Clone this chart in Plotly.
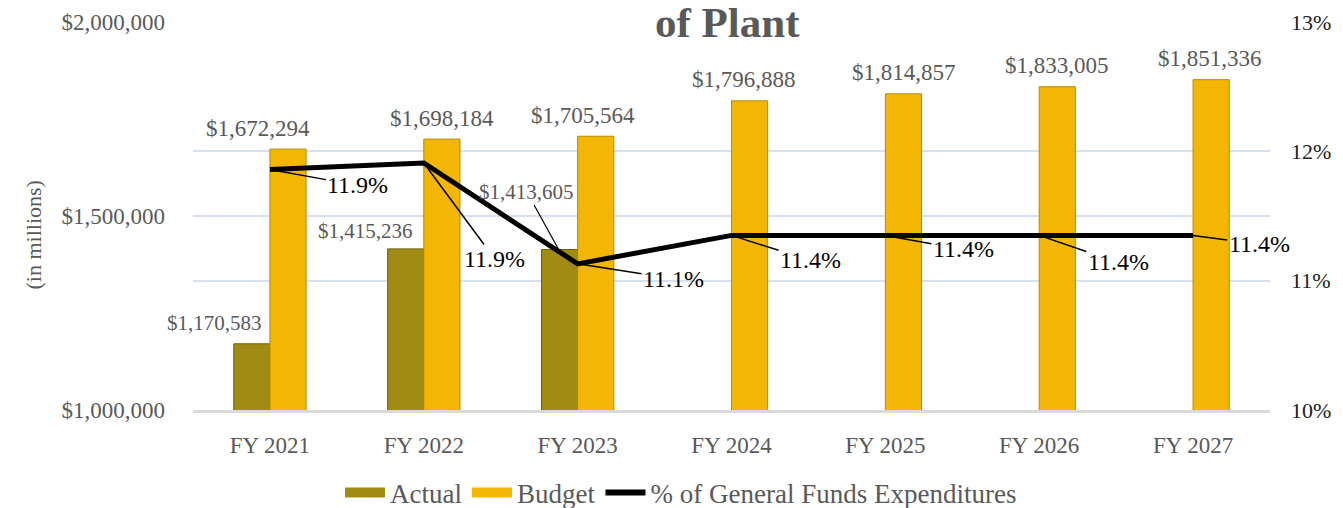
import plotly.graph_objects as go

categories = ["FY 2021", "FY 2022", "FY 2023", "FY 2024", "FY 2025", "FY 2026", "FY 2027"]
actual = [1170583, 1415236, 1413605, None, None, None, None]
budget = [1672294, 1698184, 1705564, 1796888, 1814857, 1833005, 1851336]
pct = [11.86, 11.91, 11.13, 11.35, 11.35, 11.35, 11.35]
pct_labels = ["11.9%", "11.9%", "11.1%", "11.4%", "11.4%", "11.4%", "11.4%"]

FONT = "Liberation Serif, Times New Roman, serif"
GRAY = "#595959"
ACT_C, ACT_L = "#A08C14", "#6E6000"
BUD_C, BUD_L = "#F3B605", "#B58A00"

fig = go.Figure()
fig.add_trace(go.Bar(
    name="Actual", x=categories, y=actual, showlegend=False, legendgroup="a",
    marker=dict(color=ACT_C, line=dict(color=ACT_L, width=1)),
))
fig.add_trace(go.Bar(
    name="Budget", x=categories, y=budget, showlegend=False, legendgroup="b",
    marker=dict(color=BUD_C, line=dict(color=BUD_L, width=1)),
))
fig.add_trace(go.Scatter(
    name="% of General Funds Expenditures", x=categories, y=pct, yaxis="y2",
    mode="lines", line=dict(color="black", width=5), showlegend=False, legendgroup="p",
))
# legend entries (wide rectangular swatches like the original)
fig.add_trace(go.Scatter(name="Actual", x=[None], y=[None], mode="lines", legendgroup="a",
                         line=dict(color=ACT_C, width=12)))
fig.add_trace(go.Scatter(name="Budget", x=[None], y=[None], mode="lines", legendgroup="b",
                         line=dict(color=BUD_C, width=12)))
fig.add_trace(go.Scatter(name="% of General Funds Expenditures", x=[None], y=[None],
                         mode="lines", legendgroup="p", line=dict(color="black", width=6)))

ann = []
b_dx = [-12, 18, 5, 12, 19, 18, 17]
for c, v, dx in zip(categories, budget, b_dx):
    ann.append(dict(x=c, y=v, xref="x", yref="y", text=f"${v:,.0f}", showarrow=False,
                    xshift=dx, yshift=21, font=dict(family=FONT, size=23, color=GRAY)))
a_off = [(-55, 21), (-58, 18), None]
for (c, v), off in zip([(c, v) for c, v in zip(categories, actual) if v is not None], a_off):
    if off is None:
        ann.append(dict(x=c, y=v, xref="x", yref="y", text=f"${v:,.0f}", showarrow=True,
                        arrowhead=0, arrowwidth=1.2, arrowcolor="black", ax=-32, ay=-58,
                        xshift=-19, font=dict(family=FONT, size=21, color=GRAY)))
    else:
        ann.append(dict(x=c, y=v, xref="x", yref="y", text=f"${v:,.0f}", showarrow=False,
                        xshift=off[0], yshift=off[1], font=dict(family=FONT, size=21, color=GRAY)))
p_off = [(88, 16), (71, 96), (96, 15), (79, 25), (78, 14), (79, 27), (66, 9)]
for c, v, t, (ax, ay) in zip(categories, pct, pct_labels, p_off):
    ann.append(dict(x=c, y=v, xref="x", yref="y2", text=t, showarrow=True, arrowhead=0,
                    arrowwidth=1.5, arrowcolor="black", ax=ax, ay=ay, standoff=0,
                    font=dict(family=FONT, size=24, color="black")))
ann.append(dict(x=0.5, y=1.0 + 22 / 388, xref="paper", yref="paper", text="<b>of Plant</b>",
                showarrow=False, xshift=-4, yshift=3, yanchor="top",
                font=dict(family=FONT, size=43, color=GRAY)))
ann.append(dict(x=(18 - 193) / 1077, y=(410 - 235) / 388, xref="paper", yref="paper",
                text="(in millions)", textangle=-90, showarrow=False,
                font=dict(family=FONT, size=22, color=GRAY)))

fig.update_layout(
    width=1343, height=508,
    margin=dict(l=193, r=73, t=22, b=98, autoexpand=False),
    paper_bgcolor="white", plot_bgcolor="white",
    barmode="group", bargap=0.53, bargroupgap=0,
    font=dict(family=FONT, size=20, color=GRAY),
    annotations=ann,
    showlegend=True,
    legend=dict(orientation="h", x=(681 - 193) / 1077, xanchor="center",
                y=-(493 - 410) / 388, yanchor="middle", itemwidth=40,
                font=dict(family=FONT, size=27, color=GRAY)),
    xaxis=dict(showgrid=False, showline=True, linecolor="#D9D9D9", linewidth=3,
               tickfont=dict(family=FONT, size=23, color=GRAY), ticks="",
               range=[-0.5, len(categories) - 0.5], autorange=False,
               ticklabelstandoff=12, automargin=False),
    yaxis=dict(range=[1000000, 2000000], dtick=500000, tickprefix="$", tickformat=",.0f",
               showgrid=True, gridcolor="#D6E0EE", gridwidth=1.5, zeroline=False,
               tickfont=dict(family=FONT, size=23, color=GRAY), ticklabelstandoff=27,
               automargin=False),
    yaxis2=dict(range=[10, 13], dtick=1, ticksuffix="%", overlaying="y", side="right",
                showgrid=True, gridcolor="#D6E0EE", gridwidth=1.5, zeroline=False,
                tickfont=dict(family=FONT, size=22, color="#222222"), ticklabelstandoff=20,
                automargin=False),
)

fig.write_html("out.html", config={"displayModeBar": False},
               post_script="document.body.style.margin='0';document.body.style.overflow='hidden';")
